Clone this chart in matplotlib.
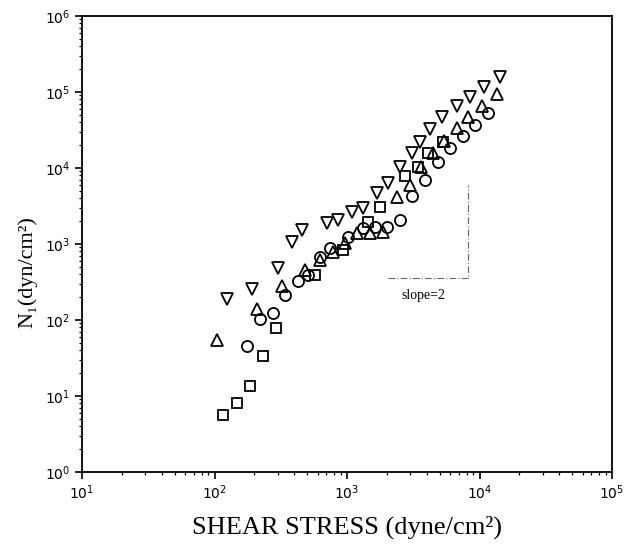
import math
import matplotlib
matplotlib.use("Agg")
import matplotlib.pyplot as plt
from matplotlib.ticker import LogLocator, FuncFormatter, NullFormatter

plt.rcParams['mathtext.fontset'] = 'custom'
plt.rcParams['mathtext.rm'] = 'Liberation Sans'
plt.rcParams['mathtext.it'] = 'Liberation Sans:italic'
plt.rcParams['mathtext.bf'] = 'Liberation Sans:bold'

# --- data ---
sq_x = [116, 149, 185, 231, 290, 573, 933, 1439, 1774, 2742, 3436, 4087, 5300]
sq_y = [5.6, 8.0, 13.5, 34, 79, 391, 834, 1945, 3070, 7850, 10300, 15700, 22000]

ci_x = [176, 220, 277, 341, 427, 508, 625, 745, 1019, 1321, 1626, 2003, 2512,
        3096, 3882, 4863, 5985, 7500, 9250, 11600]
ci_y = [45.5, 103, 124, 213, 326, 391, 675, 885, 1236, 1626, 1675, 1675, 2069,
        4285, 6950, 12000, 18300, 26400, 36800, 53000]

up_x = [104, 209, 323, 482, 625, 784, 966, 1189, 1491, 1871, 2384, 2985, 3613,
        4453, 5394, 6760, 8185, 10450, 13550]
up_y = [55, 140, 280, 455, 615, 785, 1031, 1396, 1396, 1439, 4150, 5970, 10300,
        15750, 22650, 33600, 46900, 65500, 94200]

dn_x = [124, 192, 301, 385, 457, 706, 855, 1091, 1321, 1683, 2037, 2512, 3096,
        3556, 4230, 5210, 6760, 8470, 10800, 14300]
dn_y = [189, 256, 483, 1062, 1528, 1888, 2069, 2636, 2978, 4690, 6350, 10300,
        15750, 21980, 32600, 46900, 65500, 85900, 116500, 157000]

# slope triangle corners
slope_x = [2037, 8185, 8185]
slope_y = [357, 357, 5970]
slope_label = "slope=2"
slope_label_pos = (3750, 213)

xlabel = "SHEAR STRESS (dyne/cm²)"
ylabel = "N₁(dyn/cm²)"

serif = ['Liberation Serif', 'DejaVu Serif']

fig = plt.figure(figsize=(6.27, 5.46), dpi=100)
ax = fig.add_axes([82/627, 1-472/546, (612-82)/627, (472-16)/546])
ax.set_xscale('log')
ax.set_yscale('log')
ax.set_xlim(1e1, 1e5)
ax.set_ylim(1e0, 1e6)

mk = dict(linestyle='none', markerfacecolor='none', markeredgecolor='black',
          markeredgewidth=1.3)
ax.plot(sq_x, sq_y, marker='s', markersize=7, **mk)
ax.plot(ci_x, ci_y, marker='o', markersize=8, **mk)
ax.plot(up_x, up_y, marker='^', markersize=8.5, **mk)
ax.plot(dn_x, dn_y, marker='v', markersize=8.5, **mk)

ax.plot(slope_x, slope_y, color='#666666', linewidth=0.8,
        linestyle=(0, (6, 2, 1, 2)))
ax.text(slope_label_pos[0], slope_label_pos[1], slope_label, ha='center',
        va='center', fontsize=10, family=serif)

ax.xaxis.set_major_locator(LogLocator(base=10, numticks=10))
ax.yaxis.set_major_locator(LogLocator(base=10, numticks=10))
ax.xaxis.set_minor_locator(LogLocator(base=10, subs=range(2, 10), numticks=10))
ax.yaxis.set_minor_locator(LogLocator(base=10, subs=range(2, 10), numticks=10))
ax.xaxis.set_minor_formatter(NullFormatter())
ax.yaxis.set_minor_formatter(NullFormatter())
fmt = FuncFormatter(lambda v, p: r'$\mathregular{10^{%d}}$' % round(math.log10(v)))
ax.xaxis.set_major_formatter(fmt)
ax.yaxis.set_major_formatter(fmt)
ax.tick_params(which='major', direction='out', length=5, width=1.2,
               labelsize=10, top=False, right=False)
ax.tick_params(which='minor', direction='out', length=2.5, width=0.9,
               top=False, right=False)
for s in ax.spines.values():
    s.set_linewidth(1.3)

fig.text((82 + 612) / 2 / 627, 1 - 527/546, xlabel, fontsize=19, family=serif,
         ha='center', va='center')
ax.set_ylabel(ylabel, fontsize=16, family=serif)
ax.yaxis.set_label_coords(-0.085, 0.439)

fig.savefig('out.png', dpi=100)
